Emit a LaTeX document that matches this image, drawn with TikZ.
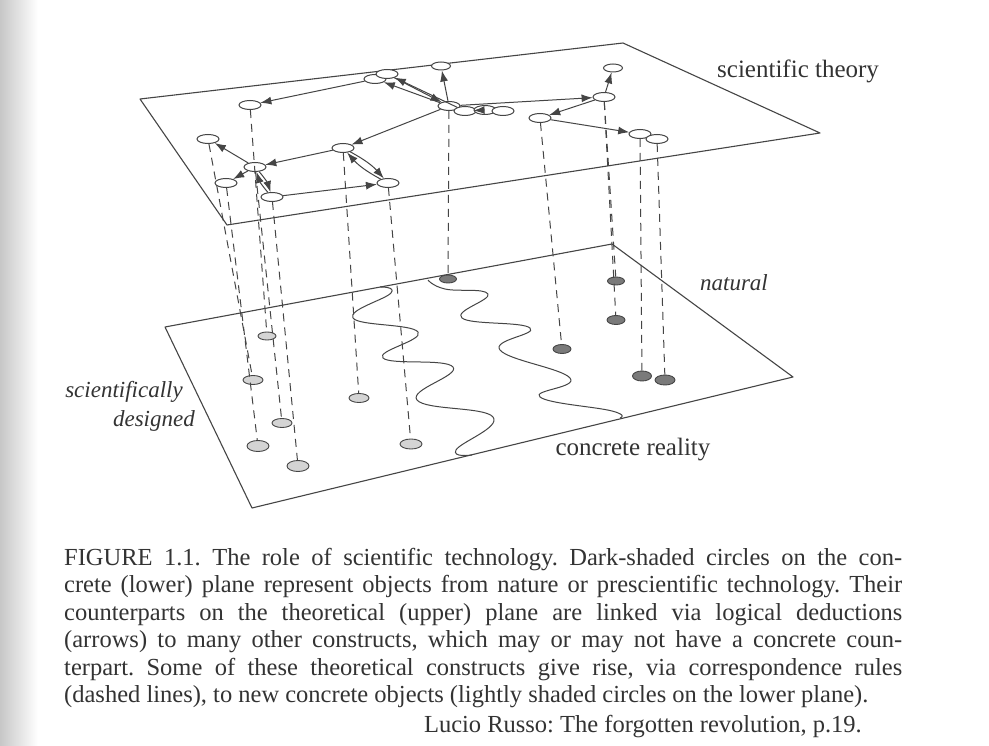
\documentclass[tikz,border=0pt]{standalone}
\usepackage{fontspec}
\setmainfont{Liberation Serif}
\usetikzlibrary{arrows.meta,shapes.geometric,positioning}

\definecolor{ink}{HTML}{454545}
\definecolor{print}{HTML}{333333}
\definecolor{lightdot}{HTML}{D4D4D4}
\definecolor{darkdot}{HTML}{7A7A7A}

\tikzset{
  plane/.style={line width=1.1pt, draw=ink, line join=round},
  theo/.style={ellipse, draw=ink, fill=white, line width=1pt,
    minimum width=22pt, minimum height=9pt, inner sep=0},
  made/.style={ellipse, draw=ink, fill=lightdot, line width=0.9pt,
    minimum width=20pt, minimum height=9pt, inner sep=0},
  nat/.style={ellipse, draw=ink, fill=darkdot, line width=0.9pt,
    minimum width=17pt, minimum height=8pt, inner sep=0},
  deduce/.style={line width=1pt, draw=ink, -{Latex[length=11pt,width=8pt]}},
  corr/.style={line width=1pt, draw=ink, dash pattern=on 8pt off 6pt},
  lbl/.style={text=print, inner sep=0},
}

\begin{document}
\frenchspacing
\begin{tikzpicture}[x=1pt,y=-1pt]

    \useasboundingbox (0,0) rectangle (989,746);
    \fill[white] (0,0) rectangle (989,746);
    \shade[left color=black!22, right color=white] (0,0) rectangle (38,746);

    % upper plane
    \draw[plane] (140,99) -- (623,43) -- (820,133) -- (227,225) -- cycle;
    % lower plane
    \draw[plane] (165,327) -- (612,244) -- (793,377) -- (252,508) -- cycle;

    % borders between designed and natural
    \draw[plane, line width=1pt] plot[smooth, tension=0.75] coordinates {
      (380,287) (391,293) (353,318) (418,332) (383,358) (453,367)
      (417,400) (493,417) (456,450) (472,455)};
    \draw[plane, line width=1pt] plot[smooth, tension=0.75] coordinates {
      (428,280) (445,289) (488,294) (462,318) (530,328) (500,350)
      (570,378) (540,397) (612,411) (620,418)};

    % theoretical constructs
    \node[theo] (A) at (250,105) {};
    \node[theo] (B) at (208,139) {};
    \node[theo] (C) at (255,167) {};
    \node[theo] (D) at (226,183) {};
    \node[theo] (E) at (272,197) {};
    \node[theo] (F) at (343,148) {};
    \node[theo] (G) at (388,183) {};
    \node[theo] (H2) at (375,79) {};
    \node[theo] (H) at (387,74) {};
    \node[theo, minimum width=19pt, minimum height=8pt] (I) at (441,66) {};
    \node[theo] (J) at (449,106) {};
    \node[theo] (K) at (465,111) {};
    \node[theo] (L) at (485,110) {};
    \node[theo] (M) at (503,111) {};
    \node[theo] (N) at (540,118) {};
    \node[theo] (O) at (604,97) {};
    \node[theo, minimum width=19pt, minimum height=8pt] (P) at (613,68) {};
    \node[theo] (Q) at (640,134) {};
    \node[theo] (R) at (657,139) {};

    % concrete objects
    \node[made, minimum width=18pt, minimum height=8pt] (l1) at (267,336) {};
    \node[made] (l2) at (253,380) {};
    \node[made] (l3) at (282,423) {};
    \node[made, minimum width=22pt, minimum height=11pt] (l4) at (258,446) {};
    \node[made, minimum width=22pt, minimum height=11pt] (l5) at (298,466) {};
    \node[made] (l6) at (359,398) {};
    \node[made, minimum width=22pt, minimum height=10pt] (l7) at (411,444) {};
    \node[nat] (d1) at (448,279) {};
    \node[nat] (d2) at (616,281) {};
    \node[nat, minimum width=18pt, minimum height=9pt] (d3) at (616,320) {};
    \node[nat, minimum width=18pt, minimum height=9pt] (d4) at (562,349) {};
    \node[nat, minimum width=19pt, minimum height=10pt] (d5) at (642,376) {};
    \node[nat, minimum width=20pt, minimum height=10pt] (d6) at (665,380) {};

    % correspondence rules
    \draw[corr] (A) -- (l1);
    \draw[corr] (B) -- (l2);
    \draw[corr] (C) -- (l3);
    \draw[corr] (D) -- (l4);
    \draw[corr] (E) -- (l5);
    \draw[corr] (F) -- (l6);
    \draw[corr] (G) -- (l7);
    \draw[corr] (J) -- (d1);
    \draw[corr] (O) -- (d2);
    \draw[corr] (O) -- (d3);
    \draw[corr] (N) -- (d4);
    \draw[corr] (Q) -- (d5);
    \draw[corr] (R) -- (d6);

    % deductions
    \draw[deduce] (H2) -- (A);
    \draw[deduce] (J) -- (H2);
    \draw[deduce] (K) -- (H);
    \draw[deduce] (H) -- (J);
    \draw[deduce] (J) -- (I);
    \draw[deduce] (J) -- (F);
    \draw[deduce] (F) -- (C);
    \draw[deduce] (C) -- (B);
    \draw[deduce] (C) -- (D);
    \draw[deduce] (C) to[bend left=12] (E);
    \draw[deduce] (E) to[bend left=12] (C);
    \draw[deduce] (F) to[bend left=10] (G);
    \draw[deduce] (G) to[bend left=10] (F);
    \draw[deduce] (E) -- (G);
    \draw[deduce] (K) -- (L);
    \draw[deduce] (J) -- (O);
    \draw[deduce] (O) -- (P);
    \draw[deduce] (O) -- (N);
    \draw[deduce] (N) -- (Q);

    % labels
    \node[lbl, anchor=west, font=\fontsize{25}{30}\selectfont] (theory) at (717,71) {scientific theory};
    \node[lbl, anchor=center, font=\itshape\fontsize{23}{28}\selectfont] (natural) at (734,283) {natural};
    \node[lbl, anchor=east, font=\itshape\fontsize{23}{28}\selectfont] (scient) at (183,392) {scientifically};
    \node[lbl, anchor=east, font=\itshape\fontsize{23}{28}\selectfont] (designed) at (195,421) {designed};
    \node[lbl, anchor=center, font=\fontsize{25}{30}\selectfont] (reality) at (633,450) {concrete reality};

    % caption
    \node[lbl, anchor=base west, text width=838pt, align=justify,
      font=\fontsize{24.5}{27.5}\selectfont] (caption) at (64,565)
      {FIGURE 1.1. The role of scientific technology. Dark-shaded circles on the con-\linebreak
       crete (lower) plane represent objects from nature or prescientific technology. Their\linebreak
       counterparts on the theoretical (upper) plane are linked via logical deductions\linebreak
       (arrows) to many other constructs, which may or may not have a concrete coun-\linebreak
       terpart. Some of these theoretical constructs give rise, via correspondence rules\linebreak
       (dashed lines), to new concrete objects (lightly shaded circles on the lower plane).};
    \node[lbl, anchor=base east, font=\fontsize{24.5}{27.5}\selectfont] (source) at (862,732)
      {Lucio Russo: The forgotten revolution, p.19.};

\end{tikzpicture}
\end{document}
